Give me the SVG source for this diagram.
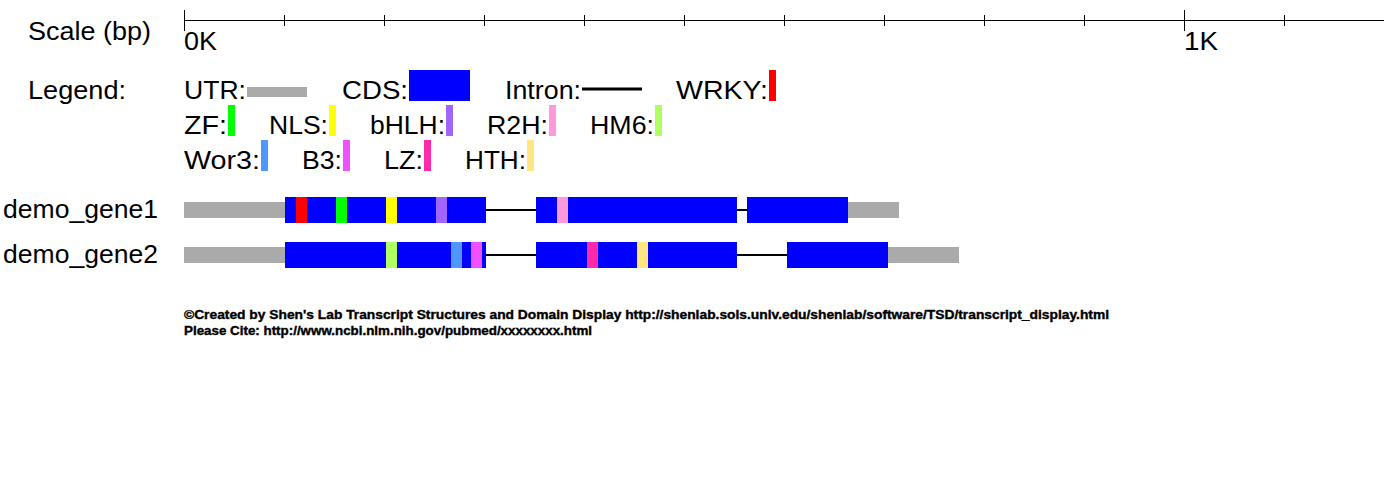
<svg xmlns="http://www.w3.org/2000/svg" width="1384" height="480" viewBox="0 0 1384 480">
<style>
.t{font-family:"Liberation Sans",Arial,sans-serif;font-size:25px;fill:#000}
.f{font-family:"Liberation Sans Narrow","Liberation Sans",Arial,sans-serif;font-size:13.5px;font-weight:bold;fill:#000;stroke:#000;stroke-width:0.4}
.utr{fill:#AAAAAA}
.cds{fill:#0000FF}
.intron{stroke:#000;stroke-width:2}
.ax{stroke:#000;stroke-width:1}
</style>
<rect width="1384" height="480" fill="#fff"/>
<g id="scale">
<text class="t" x="28" y="40" textLength="123" lengthAdjust="spacingAndGlyphs">Scale (bp)</text>
<line class="ax" x1="184" y1="20.5" x2="1384" y2="20.5"/>
<line class="ax" x1="184.5" y1="10" x2="184.5" y2="31"/>
<line class="ax" x1="1184.5" y1="10" x2="1184.5" y2="31"/>
<g class="ax">
<line x1="284.5" y1="15" x2="284.5" y2="26"/>
<line x1="384.5" y1="15" x2="384.5" y2="26"/>
<line x1="484.5" y1="15" x2="484.5" y2="26"/>
<line x1="584.5" y1="15" x2="584.5" y2="26"/>
<line x1="684.5" y1="15" x2="684.5" y2="26"/>
<line x1="784.5" y1="15" x2="784.5" y2="26"/>
<line x1="884.5" y1="15" x2="884.5" y2="26"/>
<line x1="984.5" y1="15" x2="984.5" y2="26"/>
<line x1="1084.5" y1="15" x2="1084.5" y2="26"/>
<line x1="1284.5" y1="15" x2="1284.5" y2="26"/>
</g>
<text class="t" x="184" y="50" textLength="33" lengthAdjust="spacingAndGlyphs">0K</text>
<text class="t" x="1184" y="50" textLength="34" lengthAdjust="spacingAndGlyphs">1K</text>
</g>
<g id="legend">
<text class="t" x="28" y="99" textLength="98" lengthAdjust="spacingAndGlyphs">Legend:</text>
<text class="t" x="184" y="99" textLength="62" lengthAdjust="spacingAndGlyphs">UTR:</text>
<rect class="utr" x="247" y="87" width="60" height="10"/>
<text class="t" x="342" y="99" textLength="66" lengthAdjust="spacingAndGlyphs">CDS:</text>
<rect class="cds" x="409" y="70" width="61" height="31"/>
<text class="t" x="505" y="99" textLength="76" lengthAdjust="spacingAndGlyphs">Intron:</text>
<line x1="582" y1="89" x2="642" y2="89" stroke="#000" stroke-width="3"/>
<text class="t" x="676" y="99" textLength="92" lengthAdjust="spacingAndGlyphs">WRKY:</text>
<rect x="769" y="70" width="7" height="31" fill="#FF0000"/>
<text class="t" x="184" y="134" textLength="43" lengthAdjust="spacingAndGlyphs">ZF:</text>
<rect x="228" y="105" width="7" height="31" fill="#00FF00"/>
<text class="t" x="269" y="134" textLength="59" lengthAdjust="spacingAndGlyphs">NLS:</text>
<rect x="329" y="105" width="7" height="31" fill="#FFFF00"/>
<text class="t" x="370" y="134" textLength="75" lengthAdjust="spacingAndGlyphs">bHLH:</text>
<rect x="446" y="105" width="7" height="31" fill="#A066FF"/>
<text class="t" x="487" y="134" textLength="61" lengthAdjust="spacingAndGlyphs">R2H:</text>
<rect x="549" y="105" width="7" height="31" fill="#FF99DD"/>
<text class="t" x="590" y="134" textLength="64" lengthAdjust="spacingAndGlyphs">HM6:</text>
<rect x="655" y="105" width="7" height="31" fill="#B0FF60"/>
<text class="t" x="184" y="169" textLength="76" lengthAdjust="spacingAndGlyphs">Wor3:</text>
<rect x="261" y="140" width="7" height="31" fill="#5096FF"/>
<text class="t" x="302" y="169" textLength="40" lengthAdjust="spacingAndGlyphs">B3:</text>
<rect x="343" y="140" width="7" height="31" fill="#F050FF"/>
<text class="t" x="384" y="169" textLength="39" lengthAdjust="spacingAndGlyphs">LZ:</text>
<rect x="424" y="140" width="7" height="31" fill="#FF2AAA"/>
<text class="t" x="465" y="169" textLength="61" lengthAdjust="spacingAndGlyphs">HTH:</text>
<rect x="527" y="140" width="7" height="31" fill="#FFE680"/>
</g>
<g id="connectors">
<line class="intron" x1="486" y1="210" x2="536" y2="210"/>
<line class="intron" x1="737" y1="210" x2="747" y2="210"/>
<line class="intron" x1="486" y1="255" x2="536" y2="255"/>
<line class="intron" x1="737" y1="255" x2="787" y2="255"/>
</g>
<g id="demo_gene1">
<text class="t" x="3" y="218" textLength="155" lengthAdjust="spacingAndGlyphs">demo_gene1</text>
<rect class="utr" x="184" y="202" width="101" height="16"/>
<rect class="cds" x="285" y="197" width="201" height="26"/>
<rect x="296" y="197" width="11" height="26" fill="#FF0000"/>
<rect x="336" y="197" width="11" height="26" fill="#00FF00"/>
<rect x="386" y="197" width="11" height="26" fill="#FFFF00"/>
<rect x="436" y="197" width="11" height="26" fill="#A066FF"/>
<rect class="cds" x="536" y="197" width="201" height="26"/>
<rect x="557" y="197" width="11" height="26" fill="#FF99DD"/>
<rect class="cds" x="747" y="197" width="101" height="26"/>
<rect class="utr" x="848" y="202" width="51" height="16"/>
</g>
<g id="demo_gene2">
<text class="t" x="3" y="263" textLength="155" lengthAdjust="spacingAndGlyphs">demo_gene2</text>
<rect class="utr" x="184" y="247" width="101" height="16"/>
<rect class="cds" x="285" y="242" width="201" height="26"/>
<rect x="386" y="242" width="11" height="26" fill="#B0FF60"/>
<rect x="451" y="242" width="11" height="26" fill="#5096FF"/>
<rect x="471" y="242" width="11" height="26" fill="#F050FF"/>
<rect class="cds" x="536" y="242" width="201" height="26"/>
<rect x="587" y="242" width="11" height="26" fill="#FF2AAA"/>
<rect x="637" y="242" width="11" height="26" fill="#FFE680"/>
<rect class="cds" x="787" y="242" width="101" height="26"/>
<rect class="utr" x="888" y="247" width="71" height="16"/>
</g>
<g id="footer">
<text class="f" x="184" y="319" textLength="925" lengthAdjust="spacingAndGlyphs">©Created by Shen's Lab Transcript Structures and Domain Display http://shenlab.sols.unlv.edu/shenlab/software/TSD/transcript_display.html</text>
<text class="f" x="184" y="334.5" textLength="408" lengthAdjust="spacingAndGlyphs">Please Cite: http://www.ncbi.nlm.nih.gov/pubmed/xxxxxxxx.html</text>
</g>
</svg>
